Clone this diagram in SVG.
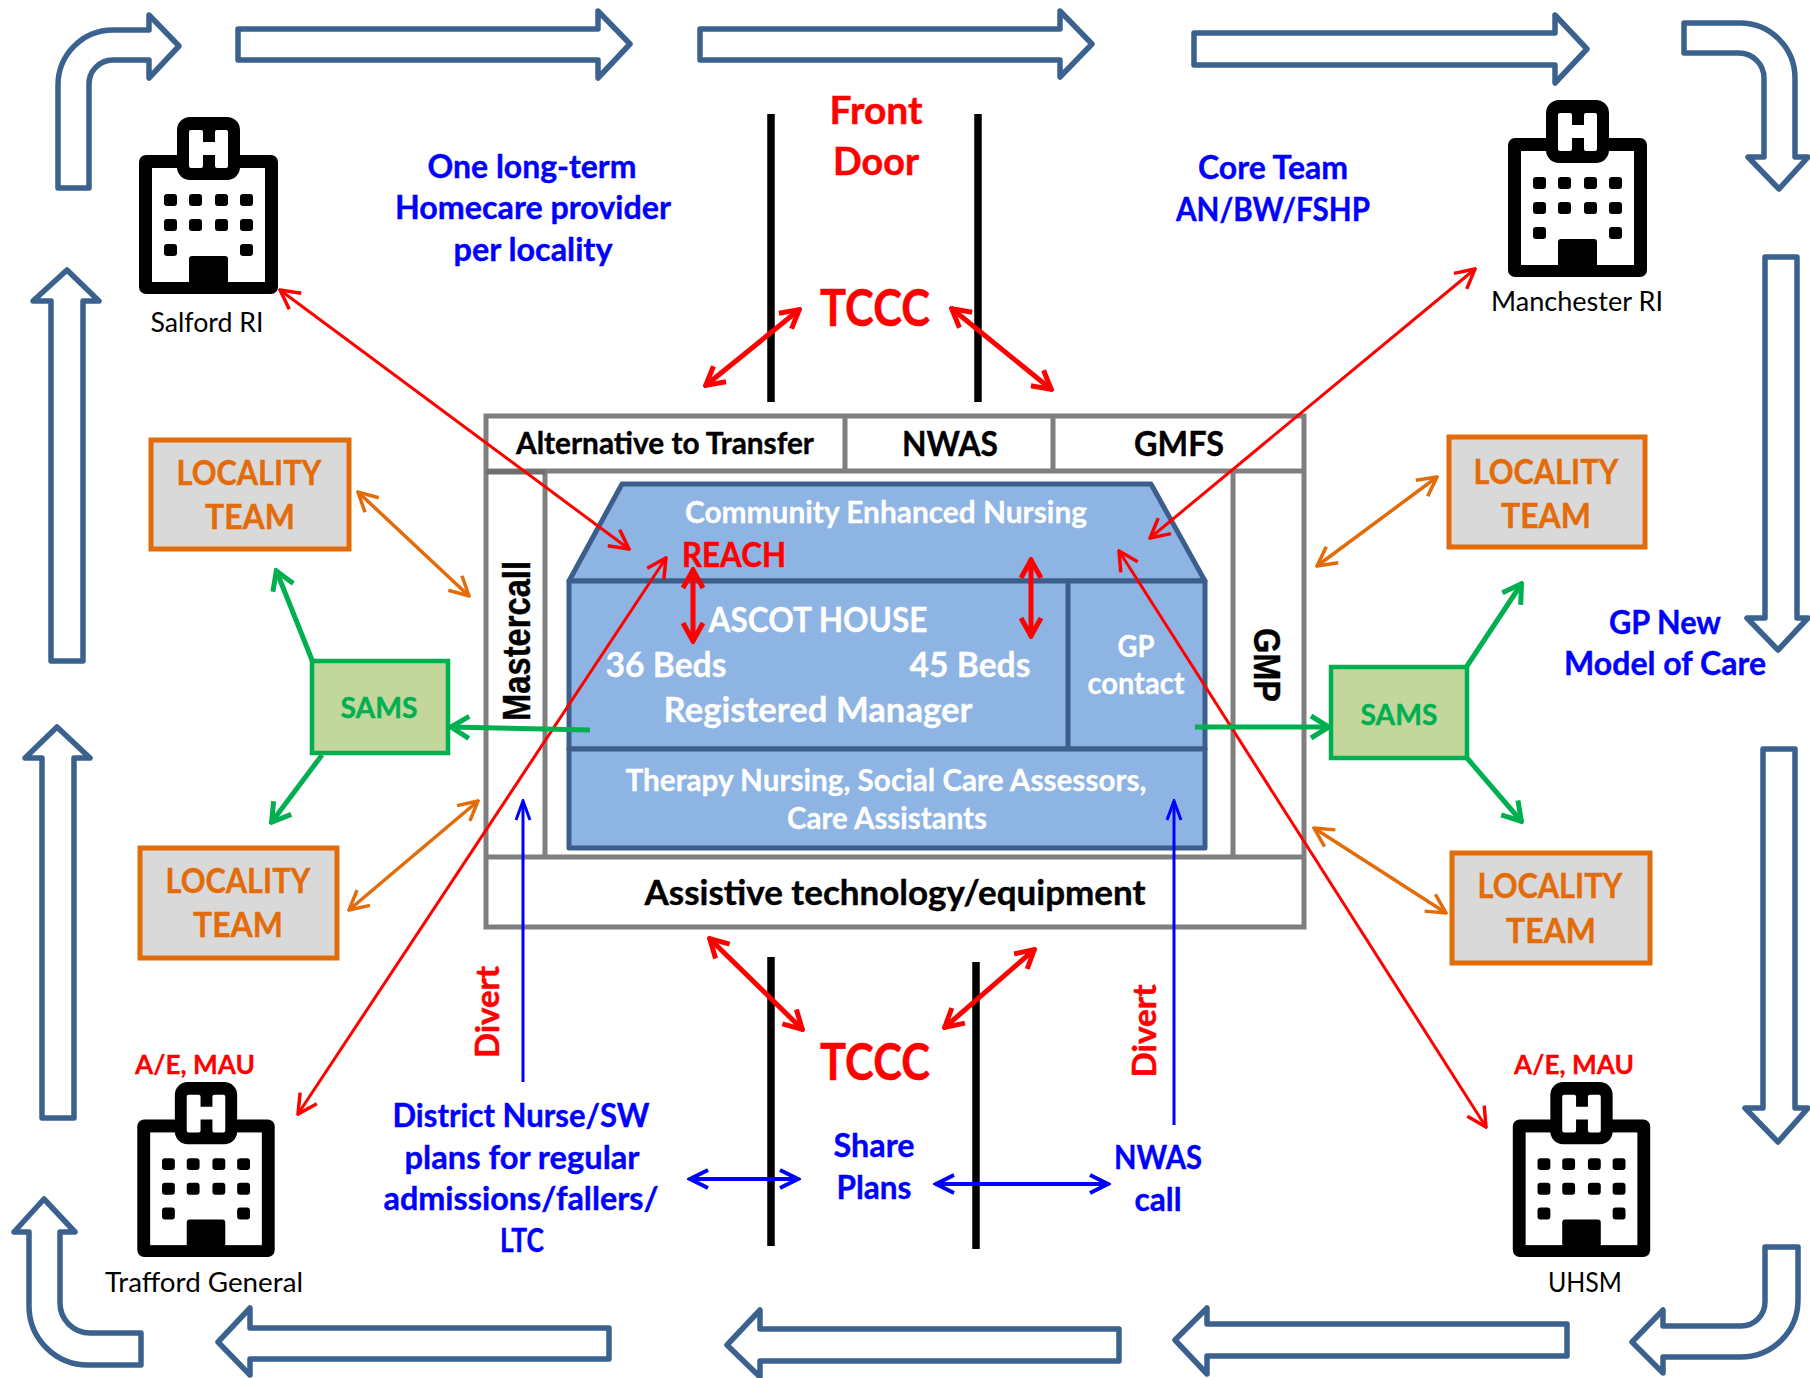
<svg xmlns="http://www.w3.org/2000/svg" width="1810" height="1378" viewBox="0 0 1810 1378">
<style>
text{font-family:Lato,"Liberation Sans",sans-serif;font-weight:700;text-anchor:middle}
.big{fill:#fff;stroke:#3B618F;stroke-width:5.5;stroke-linejoin:round}
.frame{fill:#fff;stroke:#7F7F7F;stroke-width:5}
.house{fill:#8EB4E3;stroke:#3B5F8A;stroke-width:5;stroke-linejoin:round}
.loc{fill:#D9D9D9;stroke:#E36C0A;stroke-width:5}
.sams{fill:#C3D69B;stroke:#00B050;stroke-width:4.5}
.lt{font-size:35px;fill:#E36C0A;stroke:#E36C0A;stroke-width:.4}
.st{font-size:29px;fill:#00B050;stroke:#00B050;stroke-width:.4}
.bl{font-size:33px;fill:#0000FF;stroke:#0000FF;stroke-width:.4}
.hosp{font-size:27px;font-weight:400;fill:#000}
.ae{font-size:27px;fill:#FF0000;stroke:#FF0000;stroke-width:.3}
.w{fill:#fff;stroke:#fff;stroke-width:.3}
.k{fill:#000;stroke:#000;stroke-width:.4}
.r{fill:#FF0000;stroke:#FF0000;stroke-width:.5}
.rt{fill:none;stroke:#FF0000;stroke-width:3;marker-start:url(#mr);marker-end:url(#mr)}
.rT{fill:none;stroke:#FF0000;stroke-width:5;marker-start:url(#mR);marker-end:url(#mR)}
.or{fill:none;stroke:#E36C0A;stroke-width:3.5;marker-start:url(#mo);marker-end:url(#mo)}
.gr{fill:none;stroke:#00B050;stroke-width:5;marker-end:url(#mg)}
.bu{fill:none;stroke:#0000FF;stroke-width:3;marker-end:url(#mb)}
.bd{fill:none;stroke:#0000FF;stroke-width:4;marker-start:url(#mb2);marker-end:url(#mb2)}
.bar{stroke:#000;stroke-width:7.5;fill:none}
</style>
<defs>
<marker id="mr" viewBox="-22 -12 24 24" refX="0" refY="0" markerWidth="24" markerHeight="24" markerUnits="userSpaceOnUse" orient="auto-start-reverse"><path d="M-19,-10 L0,0 L-19,10" fill="none" stroke="#FF0000" stroke-width="3.5"/></marker>
<marker id="mR" viewBox="-22 -14 24 28" refX="0" refY="0" markerWidth="24" markerHeight="28" markerUnits="userSpaceOnUse" orient="auto-start-reverse"><path d="M-19,-10 L-1,0 L-19,10" fill="none" stroke="#FF0000" stroke-width="5"/></marker>
<marker id="mo" viewBox="-22 -12 24 24" refX="0" refY="0" markerWidth="24" markerHeight="24" markerUnits="userSpaceOnUse" orient="auto-start-reverse"><path d="M-19,-10 L0,0 L-19,10" fill="none" stroke="#E36C0A" stroke-width="3.5"/></marker>
<marker id="mg" viewBox="-22 -14 24 28" refX="0" refY="0" markerWidth="24" markerHeight="28" markerUnits="userSpaceOnUse" orient="auto"><path d="M-19,-11 L-1,0 L-19,11" fill="none" stroke="#00B050" stroke-width="5"/></marker>
<marker id="mb" viewBox="-22 -12 24 24" refX="0" refY="0" markerWidth="24" markerHeight="24" markerUnits="userSpaceOnUse" orient="auto"><path d="M-19,-7 L0,0 L-19,7" fill="none" stroke="#0000FF" stroke-width="3"/></marker>
<marker id="mb2" viewBox="-22 -12 24 24" refX="0" refY="0" markerWidth="24" markerHeight="24" markerUnits="userSpaceOnUse" orient="auto-start-reverse"><path d="M-19,-9 L-1,0 L-19,9" fill="none" stroke="#0000FF" stroke-width="4"/></marker>
<symbol id="hospital" viewBox="0 0 139 177" overflow="visible">
<rect x="0" y="38" width="139" height="139" rx="7" fill="#000"/>
<rect x="13" y="51" width="113" height="114" fill="#fff"/>
<rect x="38" y="0" width="63" height="63" rx="13" fill="#000"/>
<path d="M52,13H62Q64,13 64,15V25H76V15Q76,13 78,13H87Q89,13 89,15V49Q89,51 87,51H78Q76,51 76,49V38H64V49Q64,51 62,51H52Q50,51 50,49V15Q50,13 52,13Z" fill="#fff"/>
<g fill="#000"><rect x="25" y="77" width="13" height="12" rx="3"/><rect x="50" y="77" width="13" height="12" rx="3"/><rect x="76" y="77" width="13" height="12" rx="3"/><rect x="101" y="77" width="13" height="12" rx="3"/><rect x="25" y="102" width="13" height="12" rx="3"/><rect x="50" y="102" width="13" height="12" rx="3"/><rect x="76" y="102" width="13" height="12" rx="3"/><rect x="101" y="102" width="13" height="12" rx="3"/><rect x="25" y="127" width="13" height="12" rx="3"/><rect x="101" y="127" width="13" height="12" rx="3"/><path d="M50,168V142Q50,139 53,139H86Q89,139 89,142V168Z"/></g>
</symbol>
</defs>
<rect width="1810" height="1378" fill="#fff"/>
<g id="flow-arrows">
<path class="big" d="M58,188V85A55,55 0 0 1 113,30H149V15L179,46L149,78V60H113A24,24 0 0 0 89,85V188Z"/>
<path class="big" d="M238,29H598V11L630,44L598,78V60H238Z"/>
<path class="big" d="M700,29H1060V11L1092,44L1060,77V60H700Z"/>
<path class="big" d="M1194,33H1555V15L1587,49L1555,83V65H1194Z"/>
<path class="big" d="M1684,23H1740A55,55 0 0 1 1795,78V157H1808L1779,189L1748,157H1764V78A25,25 0 0 0 1739,53H1684Z"/>
<path class="big" d="M1765,257H1797V618H1808L1778,650L1747,618H1765Z"/>
<path class="big" d="M1763,749H1795V1108H1808L1778,1142L1745,1108H1763Z"/>
<path class="big" d="M1765,1247H1798V1300A57,57 0 0 1 1741,1357H1663V1373L1632,1342L1663,1310V1326H1741A24,24 0 0 0 1765,1302Z"/>
<path class="big" d="M1567,1324V1356H1207V1374L1175,1340L1207,1308V1324Z"/>
<path class="big" d="M1119,1329V1361H760V1377L727,1345L760,1310V1329Z"/>
<path class="big" d="M609,1328V1359H250V1375L218,1342L250,1308V1328Z"/>
<path class="big" d="M141,1333V1365H88A59,59 0 0 1 29,1306V1232H14L44,1199L75,1232H60V1303A30,30 0 0 0 90,1333Z"/>
<path class="big" d="M42,1118V758H25L57,727L90,758H74V1118Z"/>
<path class="big" d="M51,661V301H33L67,270L99,301H83V661Z"/>
</g>
<g id="hospital-salford"><use href="#hospital" x="139" y="117" width="139" height="177"/><text class="hosp" x="207" y="332" textLength="113" lengthAdjust="spacingAndGlyphs">Salford RI</text></g>
<g id="hospital-manchester"><use href="#hospital" x="1508" y="100" width="139" height="177"/><text class="hosp" x="1577" y="311" textLength="172" lengthAdjust="spacingAndGlyphs">Manchester RI</text></g>
<g id="hospital-trafford"><text class="ae" x="195" y="1074" textLength="120" lengthAdjust="spacingAndGlyphs">A/E, MAU</text><use href="#hospital" x="137" y="1082" width="138" height="175"/><text class="hosp" x="204" y="1292" textLength="198" lengthAdjust="spacingAndGlyphs">Trafford General</text></g>
<g id="hospital-uhsm"><text class="ae" x="1574" y="1074" textLength="120" lengthAdjust="spacingAndGlyphs">A/E, MAU</text><use href="#hospital" x="1512" y="1082" width="139" height="175"/><text class="hosp" x="1585" y="1292" textLength="74" lengthAdjust="spacingAndGlyphs">UHSM</text></g>
<g id="locality-1"><rect class="loc" x="151" y="440" width="198" height="109"/><text class="lt" x="249" y="485" textLength="145" lengthAdjust="spacingAndGlyphs">LOCALITY</text><text class="lt" x="250" y="529" textLength="90" lengthAdjust="spacingAndGlyphs">TEAM</text></g>
<g id="locality-2"><rect class="loc" x="1449" y="437" width="196" height="110"/><text class="lt" x="1546" y="484" textLength="145" lengthAdjust="spacingAndGlyphs">LOCALITY</text><text class="lt" x="1546" y="528" textLength="90" lengthAdjust="spacingAndGlyphs">TEAM</text></g>
<g id="locality-3"><rect class="loc" x="140" y="848" width="197" height="110"/><text class="lt" x="238" y="893" textLength="145" lengthAdjust="spacingAndGlyphs">LOCALITY</text><text class="lt" x="238" y="937" textLength="90" lengthAdjust="spacingAndGlyphs">TEAM</text></g>
<g id="locality-4"><rect class="loc" x="1452" y="853" width="198" height="110"/><text class="lt" x="1550" y="898" textLength="145" lengthAdjust="spacingAndGlyphs">LOCALITY</text><text class="lt" x="1551" y="943" textLength="90" lengthAdjust="spacingAndGlyphs">TEAM</text></g>
<g id="sams-left"><rect class="sams" x="312" y="661" width="136" height="92"/><text class="st" x="379" y="718" textLength="77" lengthAdjust="spacingAndGlyphs">SAMS</text></g>
<g id="sams-right"><rect class="sams" x="1331" y="667" width="136" height="91"/><text class="st" x="1399" y="725" textLength="77" lengthAdjust="spacingAndGlyphs">SAMS</text></g>
<g id="frame">
<rect class="frame" x="486" y="416" width="818" height="511"/>
<path class="frame" fill="none" d="M486,471H1304M845,416V471M1053,416V471M486,857H1304M545,471V857M1233,471V857"/>
<path fill="none" stroke="#6E6E6E" stroke-width="5" d="M486,472H545"/>
<text class="k" x="665" y="454" font-size="31" textLength="298" lengthAdjust="spacingAndGlyphs">Alternative to Transfer</text>
<text class="k" x="950" y="456" font-size="35" textLength="96" lengthAdjust="spacingAndGlyphs">NWAS</text>
<text class="k" x="1179" y="456" font-size="35" textLength="90" lengthAdjust="spacingAndGlyphs">GMFS</text>
<text class="k" x="895" y="905" font-size="35" textLength="501" lengthAdjust="spacingAndGlyphs">Assistive technology/equipment</text>
<text class="k" transform="translate(530,641) rotate(-90)" style="font-family:'Liberation Sans',Arial,sans-serif" font-size="38" textLength="160" lengthAdjust="spacingAndGlyphs">Mastercall</text>
<text class="k" transform="translate(1254,665) rotate(90)" style="font-family:'Liberation Sans',Arial,sans-serif" font-size="37" textLength="74" lengthAdjust="spacingAndGlyphs">GMP</text>
</g>
<g id="ascot-house">
<path class="house" d="M622,484H1151L1205,581H569Z"/>
<rect class="house" x="569" y="581" width="636" height="168"/>
<rect class="house" x="569" y="749" width="636" height="99"/>
<path class="house" d="M1068,581V749"/>
<text class="w" x="886" y="523" font-size="30" textLength="402" lengthAdjust="spacingAndGlyphs">Community Enhanced Nursing</text>
<text class="r" x="734" y="567" font-size="35" textLength="104" lengthAdjust="spacingAndGlyphs">REACH</text>
<text class="w" x="818" y="632" font-size="35" textLength="219" lengthAdjust="spacingAndGlyphs">ASCOT HOUSE</text>
<text class="w" x="666" y="677" font-size="35" textLength="121" lengthAdjust="spacingAndGlyphs">36 Beds</text>
<text class="w" x="970" y="677" font-size="35" textLength="121" lengthAdjust="spacingAndGlyphs">45 Beds</text>
<text class="w" x="818" y="722" font-size="35" textLength="309" lengthAdjust="spacingAndGlyphs">Registered Manager</text>
<text class="w" x="1136" y="657" font-size="30" textLength="37" lengthAdjust="spacingAndGlyphs">GP</text>
<text class="w" x="1136" y="694" font-size="30" textLength="97" lengthAdjust="spacingAndGlyphs">contact</text>
<text class="w" x="886" y="791" font-size="30" textLength="521" lengthAdjust="spacingAndGlyphs">Therapy Nursing, Social Care Assessors,</text>
<text class="w" x="887" y="829" font-size="30" textLength="200" lengthAdjust="spacingAndGlyphs">Care Assistants</text>
</g>
<g id="labels">
<text class="r" x="876" y="124" font-size="39" textLength="93" lengthAdjust="spacingAndGlyphs">Front</text>
<text class="r" x="876" y="175" font-size="39" textLength="86" lengthAdjust="spacingAndGlyphs">Door</text>
<text class="r" x="875" y="326" font-size="52" textLength="110" lengthAdjust="spacingAndGlyphs">TCCC</text>
<text class="r" x="875" y="1080" font-size="52" textLength="110" lengthAdjust="spacingAndGlyphs">TCCC</text>
<text class="bl" x="532" y="178" textLength="209" lengthAdjust="spacingAndGlyphs">One long-term</text>
<text class="bl" x="533" y="219" textLength="276" lengthAdjust="spacingAndGlyphs">Homecare provider</text>
<text class="bl" x="533" y="261" textLength="159" lengthAdjust="spacingAndGlyphs">per locality</text>
<text class="bl" x="1273" y="179" textLength="150" lengthAdjust="spacingAndGlyphs">Core Team</text>
<text class="bl" x="1273" y="221" textLength="194" lengthAdjust="spacingAndGlyphs">AN/BW/FSHP</text>
<text class="bl" x="1665" y="634" textLength="112" lengthAdjust="spacingAndGlyphs">GP New</text>
<text class="bl" x="1665" y="675" textLength="202" lengthAdjust="spacingAndGlyphs">Model of Care</text>
<text class="bl" x="521" y="1127" textLength="257" lengthAdjust="spacingAndGlyphs">District Nurse/SW</text>
<text class="bl" x="522" y="1169" textLength="235" lengthAdjust="spacingAndGlyphs">plans for regular</text>
<text class="bl" x="521" y="1210" textLength="275" lengthAdjust="spacingAndGlyphs">admissions/fallers/</text>
<text class="bl" x="522" y="1252" textLength="44" lengthAdjust="spacingAndGlyphs">LTC</text>
<text class="bl" x="874" y="1157" textLength="81" lengthAdjust="spacingAndGlyphs">Share</text>
<text class="bl" x="874" y="1199" textLength="75" lengthAdjust="spacingAndGlyphs">Plans</text>
<text class="bl" x="1158" y="1169" textLength="88" lengthAdjust="spacingAndGlyphs">NWAS</text>
<text class="bl" x="1158" y="1211" textLength="47" lengthAdjust="spacingAndGlyphs">call</text>
<text class="r" transform="translate(499,1012) rotate(-90)" font-size="33" textLength="92" lengthAdjust="spacingAndGlyphs">Divert</text>
<text class="r" transform="translate(1156,1031) rotate(-90)" font-size="33" textLength="93" lengthAdjust="spacingAndGlyphs">Divert</text>
</g>
<g id="connectors">
<path class="bar" d="M771,114V402M978,114V402M771,957V1246M976,962V1249"/>
<path class="rt" d="M280,290L629,549"/>
<path class="rt" d="M1475,269L1150,538"/>
<path class="rt" d="M298,1114L666,558"/>
<path class="rt" d="M1486,1127L1119,551"/>
<path class="rT" d="M800,309L705,386"/>
<path class="rT" d="M951,308L1052,390"/>
<path class="rT" d="M709,938L803,1030"/>
<path class="rT" d="M1035,949L944,1028"/>
<path class="rT" d="M693,569V642"/>
<path class="rT" d="M1031,559V637"/>
<path class="or" d="M358,492L469,596"/>
<path class="or" d="M1437,477L1317,566"/>
<path class="or" d="M478,801L349,910"/>
<path class="or" d="M1314,828L1446,913"/>
<path class="gr" d="M312,660L276,570"/>
<path class="gr" d="M322,755L271,823"/>
<path class="gr" d="M590,730L450,727"/>
<path class="gr" d="M1467,666L1522,583"/>
<path class="gr" d="M1467,758L1522,822"/>
<path class="gr" d="M1195,727H1330"/>
<path class="bu" d="M523,1082V801"/>
<path class="bu" d="M1174,1125V801"/>
<path class="bd" d="M689,1179H799"/>
<path class="bd" d="M935,1184H1109"/>
</g>
</svg>
